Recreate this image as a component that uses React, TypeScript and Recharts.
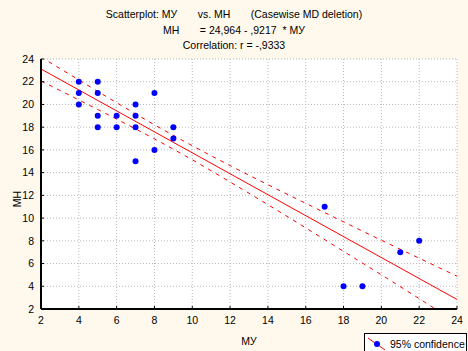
import React from 'react';
import { ComposedChart, Scatter, Line, XAxis, YAxis, CartesianGrid, Legend, Label } from 'recharts';

const pointX = [4, 4, 4, 5, 5, 5, 5, 6, 6, 7, 7, 7, 7, 8, 8, 9, 9, 17, 18, 19, 21, 22];
const pointY = [22, 21, 20, 22, 21, 19, 18, 19, 18, 20, 19, 18, 15, 21, 16, 18, 17, 11, 4, 4, 7, 8];
const fitX = [2, 24];
const fitY = [23.12, 2.84];
const bandX = [2, 4, 6, 8, 10, 12, 14, 16, 18, 20, 22, 24];
const bandUpper = [24.17, 22.16, 20.15, 18.21, 16.37, 14.62, 12.94, 11.3, 9.67, 8.05, 6.47, 4.89];
const bandLower = [22.07, 20.4, 18.71, 16.97, 15.13, 13.18, 11.18, 9.14, 7.07, 5.01, 2.91, 0.79];
const axisTicks = [2, 4, 6, 8, 10, 12, 14, 16, 18, 20, 22, 24];
const titleLines = [
  'Scatterplot: МУ\u00a0\u00a0\u00a0\u00a0\u00a0\u00a0\u00a0vs. МН\u00a0\u00a0\u00a0\u00a0\u00a0\u00a0\u00a0(Casewise MD deletion)',
  'МН\u00a0\u00a0\u00a0\u00a0\u00a0\u00a0\u00a0= 24,964 - ,9217\u00a0\u00a0* МУ',
  'Correlation: r = -,9333',
];
const xLabel = 'МУ';
const yLabel = 'МН';
const legendLabel = '95% confidence';

const points = pointX.map((x, i) => ({ x, y: pointY[i] }));
const fit = fitX.map((x, i) => ({ x, y: fitY[i] }));
const band = bandX.map((x, i) => ({ x, upper: bandUpper[i], lower: bandLower[i] }));

const FONT = '"Liberation Sans", Arial, sans-serif';
const BG = '#FEF9EC';
const tickStyle = { fill: '#000', fontSize: 10.5, fontFamily: FONT };

const LegendBox = () => (
  <div
    style={{
      boxSizing: 'border-box',
      width: 103,
      height: 20,
      border: '1px solid #000',
      borderBottom: 'none',
      background: '#fff',
      display: 'flex',
      alignItems: 'center',
      fontFamily: FONT,
      fontSize: 10.5,
      color: '#000',
      whiteSpace: 'nowrap',
    }}
  >
    <svg width={20} height={16} style={{ marginLeft: 2, marginRight: 3 }}>
      <line x1={1} y1={2} x2={18} y2={14} stroke="#f00" strokeWidth={1} />
      <circle cx={10} cy={8} r={3} fill="#00f" />
    </svg>
    <span>{legendLabel}</span>
  </div>
);

const Dot = (props: any) => <circle cx={props.cx} cy={props.cy} r={3} fill="#00f" />;

const YLabel = () => (
  <text
    x={17}
    y={199}
    transform="rotate(-90 17 199)"
    textAnchor="middle"
    dominantBaseline="central"
    fill="#000"
    fontSize={10.5}
    fontFamily={FONT}
  >
    {yLabel}
  </text>
);

export default function App() {
  return (
    <div style={{ position: 'absolute', left: 0, top: 0, width: 468, height: 351, background: BG, overflow: 'hidden' }}>
      {titleLines.map((t, i) => (
        <div
          key={i}
          style={{
            position: 'absolute',
            left: 0,
            width: 468,
            top: 7 + i * 15.5,
            textAlign: 'center',
            fontFamily: FONT,
            fontSize: 10.5,
            lineHeight: '14px',
            color: '#000',
            whiteSpace: 'pre',
          }}
        >
          {t}
        </div>
      ))}
      <ComposedChart
        width={468}
        height={351}
        margin={{ top: 59, right: 11, bottom: 0, left: 0 }}
        style={{ position: 'absolute', left: 0, top: 0 }}
      >
        <CartesianGrid
          stroke="#b8b8b8"
          strokeDasharray="1 2"
          fill="#fff"
          vertical={true}
          horizontal={true}
        />
        <XAxis
          dataKey="x"
          type="number"
          domain={[2, 24]}
          ticks={axisTicks}
          allowDataOverflow
          height={42}
          tick={tickStyle}
          tickSize={-3}
          tickMargin={11}
          axisLine={{ stroke: '#000', strokeWidth: 2 }}
          tickLine={{ stroke: '#000' }}
          interval={0}
        >
          <Label value={xLabel} position="insideBottom" offset={6} style={{ fill: '#000', fontSize: 10.5, fontFamily: FONT }} />
        </XAxis>
        <XAxis
          xAxisId="top"
          orientation="top"
          dataKey="x"
          type="number"
          domain={[2, 24]}
          ticks={axisTicks}
          allowDataOverflow
          height={0}
          tick={false}
          tickSize={-3}
          axisLine={{ stroke: '#000', strokeWidth: 1 }}
          tickLine={{ stroke: '#000' }}
          interval={0}
        />
        <YAxis
          type="number"
          domain={[2, 24]}
          ticks={axisTicks}
          allowDataOverflow
          width={41}
          tick={tickStyle}
          tickSize={-3}
          tickMargin={10}
          axisLine={{ stroke: '#000', strokeWidth: 2 }}
          tickLine={{ stroke: '#000' }}
          interval={0}
        >
          <Label content={() => <YLabel />} />
        </YAxis>
        <YAxis
          yAxisId="right"
          orientation="right"
          type="number"
          domain={[2, 24]}
          ticks={axisTicks}
          allowDataOverflow
          width={0}
          tick={false}
          tickSize={-3}
          axisLine={{ stroke: '#000', strokeWidth: 2 }}
          tickLine={{ stroke: '#000' }}
          interval={0}
        />
        <Line
          xAxisId="top"
          yAxisId="right"
          data={fit}
          dataKey="y"
          stroke="none"
          dot={false}
          activeDot={false}
          isAnimationActive={false}
          legendType="none"
        />
        <Line
          data={band}
          dataKey="upper"
          type="monotone"
          stroke="#f00"
          strokeWidth={1}
          strokeDasharray="4 5"
          dot={false}
          activeDot={false}
          isAnimationActive={false}
          legendType="none"
        />
        <Line
          data={band}
          dataKey="lower"
          type="monotone"
          stroke="#f00"
          strokeWidth={1}
          strokeDasharray="4 5"
          dot={false}
          activeDot={false}
          isAnimationActive={false}
          legendType="none"
        />
        <Line
          data={fit}
          dataKey="y"
          type="linear"
          stroke="#f00"
          strokeWidth={1}
          dot={false}
          activeDot={false}
          isAnimationActive={false}
          legendType="none"
        />
        <Scatter data={points} dataKey="y" fill="#00f" shape={Dot} isAnimationActive={false} />
        <Legend
          layout="horizontal"
          verticalAlign="middle"
          align="center"
          content={() => <LegendBox />}
          wrapperStyle={{ left: 364, top: 333, width: 103, height: 20 }}
        />
      </ComposedChart>
    </div>
  );
}
